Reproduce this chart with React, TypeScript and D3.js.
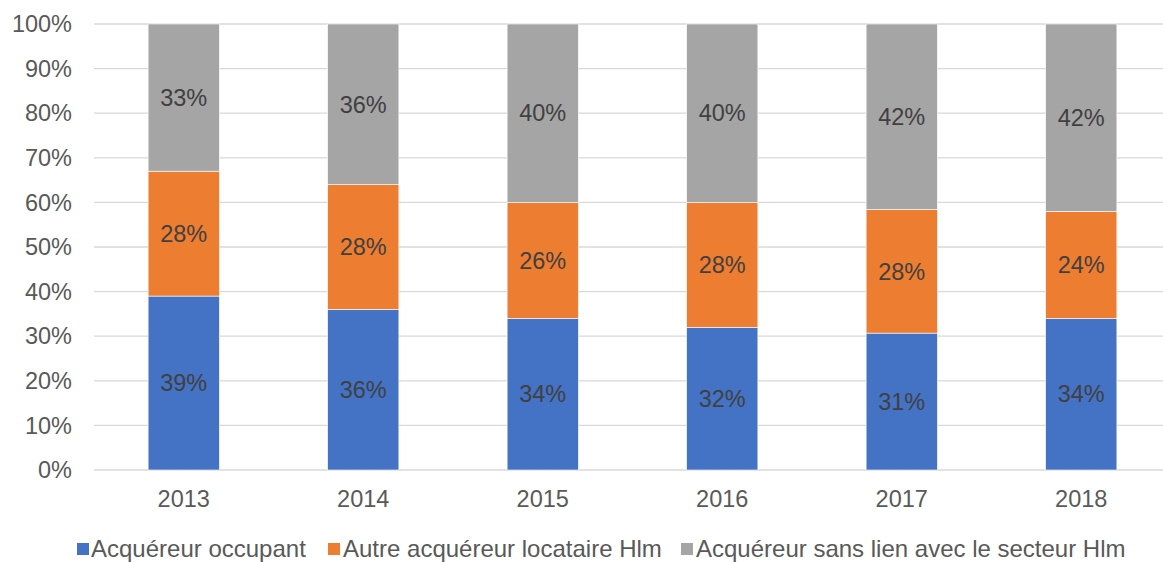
import React from "react";
import * as d3 from "d3";

const years = ["2013", "2014", "2015", "2016", "2017", "2018"];
const occupant = [39, 36, 34, 32, 31, 34];
const autreLocataire = [28, 28, 26, 28, 28, 24];
const sansLien = [33, 36, 40, 40, 42, 42];
const seriesNames = [
  "Acquéreur occupant",
  "Autre acquéreur locataire Hlm",
  "Acquéreur sans lien avec le secteur Hlm",
];
const colors = ["#4472C4", "#ED7D31", "#A5A5A5"];
const yTicks = [0, 0.1, 0.2, 0.3, 0.4, 0.5, 0.6, 0.7, 0.8, 0.9, 1];

const W = 1163;
const H = 562;
const FONT = "Arial, 'Liberation Sans', sans-serif";

export default function App() {
  const x = d3.scaleBand<string>().domain(years).range([94, 1171]).paddingInner(0.603).paddingOuter(0.3015);
  const y = d3.scaleLinear().domain([0, 1]).range([470, 24]);

  const rows = years.map((yr, i) => {
    const vals = [occupant[i], autreLocataire[i], sansLien[i]];
    const total = d3.sum(vals);
    return { year: yr, k0: vals[0] / total, k1: vals[1] / total, k2: vals[2] / total, raw: vals };
  });
  const stack = d3.stack<any>().keys(["k0", "k1", "k2"]);
  const stacked = stack(rows);
  const fmt = d3.format(".0%");

  const legendItems = [
    { sq: 77, tx: 91 },
    { sq: 328, tx: 343 },
    { sq: 681, tx: 696 },
  ];

  return (
    <svg width={W} height={H} style={{ position: "absolute", left: 0, top: 0, background: "#fff" }} fontFamily={FONT}>
      <rect width={W} height={H} fill="#fff" />
      {yTicks.map((t) => (
        <g key={t}>
          <line x1={94} x2={1171} y1={y(t)} y2={y(t)} stroke="#D9D9D9" strokeWidth={1.3} />
          <text x={72} y={y(t)} dy="0.35em" textAnchor="end" fontSize={23.5} fill="#595959">
            {fmt(t)}
          </text>
        </g>
      ))}
      {stacked.map((layer, si) => (
        <g key={si}>
          {layer.map((d, i) => {
            const x0 = x(years[i])!;
            const top = y(d[1]);
            const bot = y(d[0]);
            return (
              <g key={i}>
                <rect x={x0} y={top} width={x.bandwidth()} height={bot - top} fill={colors[si]} stroke="#fff" strokeWidth={0.6} />
                <text
                  x={x0 + x.bandwidth() / 2}
                  y={(top + bot) / 2}
                  dy="0.35em"
                  textAnchor="middle"
                  fontSize={23.5}
                  fill="#404040"
                >
                  {rows[i].raw[si] + "%"}
                </text>
              </g>
            );
          })}
        </g>
      ))}
      {years.map((yr) => (
        <text key={yr} x={x(yr)! + x.bandwidth() / 2} y={507} textAnchor="middle" fontSize={23.5} fill="#595959">
          {yr}
        </text>
      ))}
      {seriesNames.map((name, i) => (
        <g key={name}>
          <rect x={legendItems[i].sq} y={543} width={12} height={12} fill={colors[i]} />
          <text x={legendItems[i].tx} y={549} dy="0.35em" fontSize={24} fill="#595959">
            {name}
          </text>
        </g>
      ))}
    </svg>
  );
}
